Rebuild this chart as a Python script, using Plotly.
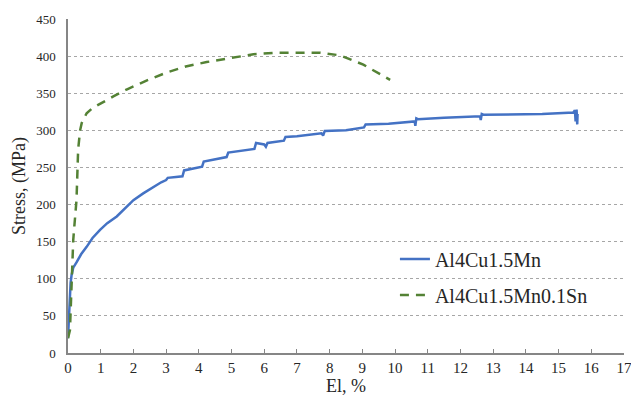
import plotly.graph_objects as go

# Al4Cu1.5Mn (solid blue)
el_mn = [0, 0.02, 0.05, 0.08, 0.11, 0.16, 0.26, 0.4, 0.57, 0.75, 0.98, 1.2, 1.49, 1.75, 2.0, 2.3, 2.61,
         2.85, 3.0, 3.05, 3.3, 3.5, 3.55, 3.8, 4.1, 4.15, 4.5, 4.85, 4.9, 5.3, 5.7, 5.75, 6.0, 6.05, 6.1,
         6.6, 6.65, 7.0, 7.5, 7.75, 7.8, 7.85, 8.5, 9.05, 9.1, 9.8, 10.6, 10.62, 10.65, 10.7, 11.5,
         12.6, 12.62, 12.65, 12.7, 13.5, 14.5, 15.45, 15.5, 15.52, 15.55, 15.57, 15.58]
stress_mn = [20, 45, 75, 95, 105, 115, 122, 133, 143, 155, 166, 175, 184, 195, 206, 215, 224,
             230, 233, 236, 237, 238, 246, 248, 251, 258, 261, 264, 270, 272, 275, 283, 281, 278, 283,
             286, 291, 292, 294, 296, 293, 299, 300, 304, 308, 309, 312, 306, 316, 315, 317,
             319, 314, 322, 321, 321, 322, 324, 327, 312, 328, 308, 322]

# Al4Cu1.5Mn0.1Sn (dashed green)
el_sn = [0, 0.06, 0.1, 0.16, 0.22, 0.26, 0.31, 0.37, 0.42, 0.5, 0.57, 0.75, 0.98, 1.4, 1.79, 2.4,
         3.02, 3.6, 4.24, 5.0, 5.67, 6.38, 7.0, 7.71, 8.32, 9.03, 9.85]
stress_sn = [20, 31, 80, 152, 185, 206, 274, 300, 310, 318, 323, 330, 336, 346, 355, 367,
             378, 386, 392, 398, 402.5, 404.5, 405, 404.6, 401, 388.5, 368]

x_ticks = list(range(0, 18))
y_ticks = list(range(0, 451, 50))

font_family = "Liberation Serif, Times New Roman, DejaVu Serif, serif"
text_color = "#262626"

fig = go.Figure()
fig.add_trace(go.Scatter(x=el_mn, y=stress_mn, mode="lines", name="Al4Cu1.5Mn",
                         legendgroup="a",
                         line=dict(color="#4472C4", width=2.5)))
fig.add_trace(go.Scatter(x=el_sn, y=stress_sn, mode="lines", name="Al4Cu1.5Mn0.1Sn",
                         legendgroup="b",
                         line=dict(color="#548235", width=2.5, dash="9px,7px")))

# the page body adds an 8px margin, so the figure is 8px smaller on each side
fig.update_layout(
    width=631, height=394,
    margin=dict(l=60, r=15, t=11, b=49),
    paper_bgcolor="white", plot_bgcolor="white",
    font=dict(family=font_family, color=text_color),
    showlegend=True,
    legend=dict(x=0.588, y=0.34, xanchor="left", yanchor="top",
                font=dict(size=20, color=text_color, family=font_family),
                bgcolor="rgba(0,0,0,0)", tracegroupgap=7),
    xaxis=dict(range=[0, 17], tickvals=x_ticks, ticktext=[str(v) for v in x_ticks],
               showgrid=False, zeroline=False, automargin=False,
               showline=True, linecolor="#868686", linewidth=1.5,
               ticks="inside", ticklen=4, tickcolor="#868686", tickwidth=1,
               tickfont=dict(size=15, color=text_color, family=font_family),
               title=dict(text="El, %", font=dict(size=18, color=text_color, family=font_family),
                          standoff=4)),
    yaxis=dict(range=[0, 450], tickvals=y_ticks, ticktext=[str(v) for v in y_ticks],
               showgrid=True, gridcolor="#A6A6A6", gridwidth=1, griddash="dot",
               zeroline=False, automargin=False,
               showline=True, linecolor="#868686", linewidth=1.5,
               ticks="", ticklabelstandoff=8,
               tickfont=dict(size=13, color=text_color, family=font_family),
               title=dict(text="Stress, (MPa)", font=dict(size=18, color=text_color, family=font_family),
                          standoff=6)),
)

fig.write_html("out.html")
